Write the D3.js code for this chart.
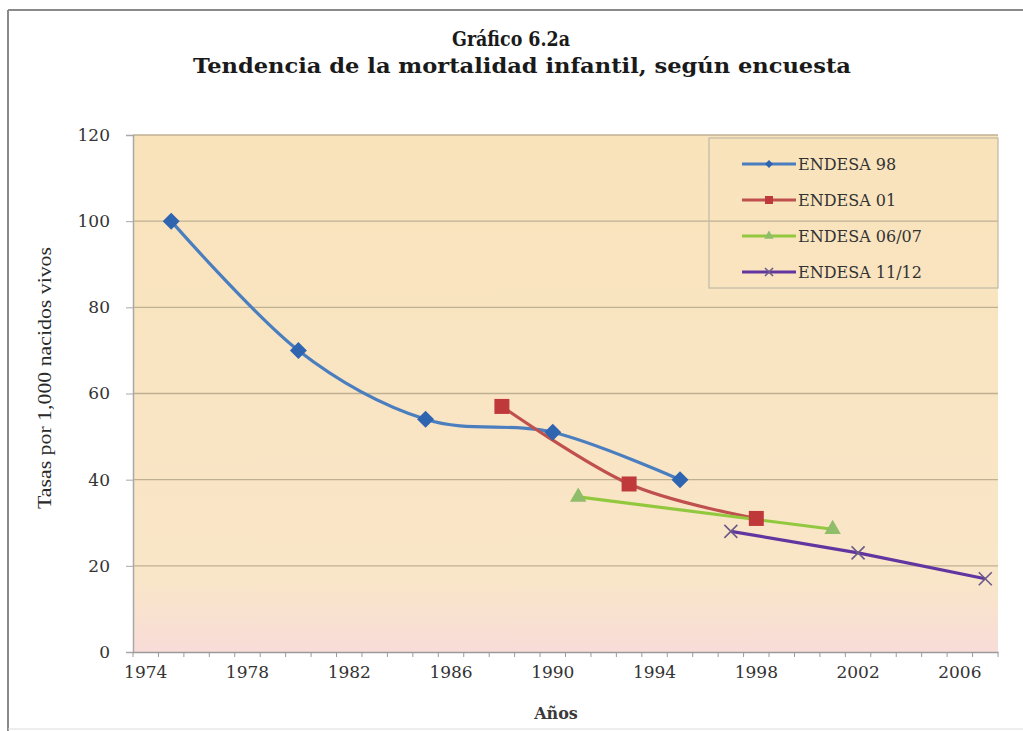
<!DOCTYPE html>
<html><head><meta charset="utf-8">
<script src="https://cdn.jsdelivr.net/npm/d3@7/dist/d3.min.js"></script>
<style>body{margin:0;background:#fff;}svg{display:block;}</style>
</head><body>
<script>
const titleLines = ["Gráfico 6.2a", "Tendencia de la mortalidad infantil, según encuesta"];
const yTitle = "Tasas  por 1,000 nacidos vivos";
const xTitle = "Años";
const years = d3.range(1974, 2008);
const xTickLabels = [1974, 1978, 1982, 1986, 1990, 1994, 1998, 2002, 2006];
const yTickValues = [0, 20, 40, 60, 80, 100, 120];

const seriesNames = ["ENDESA 98", "ENDESA 01", "ENDESA 06/07", "ENDESA 11/12"];
const endesa98Years = [1975, 1980, 1985, 1990, 1995];
const endesa98Values = [100, 70, 54, 51, 40];
const endesa01Years = [1988, 1993, 1998];
const endesa01Values = [57, 39, 31];
const endesa0607Years = [1991, 2001];
const endesa0607Values = [36, 28.5];
const endesa1112Years = [1997, 2002, 2007];
const endesa1112Values = [28, 23, 17];

const colors = ["#4a7ebf", "#c0504d", "#92c83e", "#6236a0"];
const markers = ["diamond", "square", "triangle", "x"];
const smooth = [true, true, false, false];

const seriesData = [
  d3.zip(endesa98Years, endesa98Values),
  d3.zip(endesa01Years, endesa01Values),
  d3.zip(endesa0607Years, endesa0607Values),
  d3.zip(endesa1112Years, endesa1112Values)
];

const W = 1023, H = 731;
const svg = d3.select("body").append("svg").attr("width", W).attr("height", H);

// frame
svg.append("rect").attr("x",0).attr("y",0).attr("width",W).attr("height",H).attr("fill","#fff");
svg.append("line").attr("x1",8).attr("x2",W).attr("y1",10).attr("y2",10).attr("stroke","#8a8a8a").attr("stroke-width",2);
svg.append("line").attr("x1",8).attr("x2",8).attr("y1",10).attr("y2",H).attr("stroke","#8a8a8a").attr("stroke-width",2);
svg.append("line").attr("x1",8).attr("x2",W).attr("y1",729).attr("y2",729).attr("stroke","#dcdcdc").attr("stroke-width",1);

const plot = {l:133, r:998, t:135, b:652};
const x = d3.scaleBand().domain(years).range([plot.l, plot.r]);
const xc = yr => x(yr) + x.bandwidth()/2;
const y = d3.scaleLinear().domain([0,120]).range([plot.b, plot.t]);

// gradient
const defs = svg.append("defs");
const g = defs.append("linearGradient").attr("id","bg").attr("x1",0).attr("x2",0).attr("y1",0).attr("y2",1);
g.append("stop").attr("offset","0%").attr("stop-color","#f9e3bb");
g.append("stop").attr("offset","86%").attr("stop-color","#f9e6c8");
g.append("stop").attr("offset","100%").attr("stop-color","#f8dcd8");
svg.append("rect").attr("x",plot.l).attr("y",plot.t).attr("width",plot.r-plot.l).attr("height",plot.b-plot.t).attr("fill","url(#bg)");

// gridlines
svg.append("g").selectAll("line").data(yTickValues.filter(v=>v>0)).join("line")
  .attr("x1",plot.l).attr("x2",plot.r).attr("y1",d=>y(d)).attr("y2",d=>y(d))
  .attr("stroke","#bfb092").attr("stroke-width",1.3);

// y axis
const yAxis = d3.axisLeft(y).tickValues(yTickValues).tickSize(7).tickPadding(16);
const ya = svg.append("g").attr("transform",`translate(${plot.l},0)`).call(yAxis);
ya.select(".domain").attr("stroke","#a8a8a8").attr("stroke-width",1.5);
ya.selectAll(".tick line").attr("stroke","#a8a8a8");
ya.selectAll("text").attr("font-family","DejaVu Serif").attr("font-size",17).attr("fill","#333");

// x axis
const xAxis = d3.axisBottom(x).tickValues(xTickLabels).tickSize(0).tickPadding(14);
const xa = svg.append("g").attr("transform",`translate(0,${plot.b})`).call(xAxis);
xa.select(".domain").attr("stroke","#9a9a9a").attr("stroke-width",1.5);
xa.selectAll("text").attr("font-family","DejaVu Serif").attr("font-size",17).attr("fill","#333");
// minor tick marks between categories
xa.append("g").selectAll("line").data(years.concat([2008])).join("line")
  .attr("x1",d=> d===2008 ? plot.r : x(d)).attr("x2",d=> d===2008 ? plot.r : x(d))
  .attr("y1",0).attr("y2",5).attr("stroke","#9a9a9a");

// titles
svg.append("text").attr("x",511).attr("y",46).attr("text-anchor","middle")
  .attr("font-family","DejaVu Serif").attr("font-weight","bold").attr("font-size",20).attr("fill","#1a1a1a")
  .attr("textLength",118).attr("lengthAdjust","spacingAndGlyphs").text(titleLines[0]);
svg.append("text").attr("x",522).attr("y",73).attr("text-anchor","middle")
  .attr("font-family","DejaVu Serif").attr("font-weight","bold").attr("font-size",20).attr("fill","#1a1a1a")
  .attr("textLength",658).attr("lengthAdjust","spacingAndGlyphs").text(titleLines[1]);

svg.append("text").attr("transform","translate(51,378) rotate(-90)").attr("text-anchor","middle")
  .attr("font-family","Liberation Serif").attr("font-size",18).attr("fill","#2a2a2a")
  .attr("textLength",262).attr("lengthAdjust","spacingAndGlyphs").text(yTitle);
svg.append("text").attr("x",556).attr("y",719).attr("text-anchor","middle")
  .attr("font-family","DejaVu Serif").attr("font-weight","bold").attr("font-size",16).attr("fill","#3a3a3a")
  .text(xTitle);

// markers
function drawMarker(sel, type, color, size){
  const s = size/2;
  if(type==="diamond"){
    sel.append("path").attr("d",`M0,${-s}L${s},0L0,${s}L${-s},0Z`).attr("fill",color);
  } else if(type==="square"){
    sel.append("rect").attr("x",-s).attr("y",-s).attr("width",size).attr("height",size).attr("fill",color);
  } else if(type==="triangle"){
    sel.append("path").attr("d",d3.symbol(d3.symbolTriangle, size*size*0.6)()).attr("fill",color);
  } else if(type==="x"){
    sel.append("path").attr("d",`M${-s},${-s}L${s},${s}M${-s},${s}L${s},${-s}`).attr("stroke",color).attr("stroke-width",1.6).attr("fill","none");
  }
}

// lines
seriesData.forEach((data,i)=>{
  const line = d3.line().x(d=>xc(d[0])).y(d=>y(d[1]))
    .curve(smooth[i] ? d3.curveCatmullRom.alpha(0) : d3.curveLinear);
  svg.append("path").datum(data).attr("d",line).attr("fill","none")
    .attr("stroke",colors[i]).attr("stroke-width",3.2).attr("stroke-linejoin","round");
});
const markerSizes = [17, 15, 14, 13];
const markerColors = ["#2f64b0", "#c0393a", "#8fbd6a", "#6a5a8a"];
seriesData.forEach((data,i)=>{
  data.forEach(d=>{
    const gm = svg.append("g").attr("transform",`translate(${xc(d[0])},${y(d[1])})`);
    drawMarker(gm, markers[i], markerColors[i], markerSizes[i]);
  });
});

// legend
const lg = svg.append("g");
lg.append("rect").attr("x",709).attr("y",138).attr("width",289).attr("height",150)
  .attr("fill","none").attr("stroke","#c4bcaa").attr("stroke-width",1.3);
seriesNames.forEach((name,i)=>{
  const yy = 164 + i*36;
  lg.append("line").attr("x1",742).attr("x2",796).attr("y1",yy).attr("y2",yy)
    .attr("stroke",colors[i]).attr("stroke-width",3);
  const gm = lg.append("g").attr("transform",`translate(769,${yy})`);
  drawMarker(gm, markers[i], markerColors[i], 8);
  lg.append("text").attr("x",798).attr("y",yy+6)
    .attr("font-family","DejaVu Serif").attr("font-size",16).attr("fill","#333")
    .text(name);
});
</script>
</body></html>
